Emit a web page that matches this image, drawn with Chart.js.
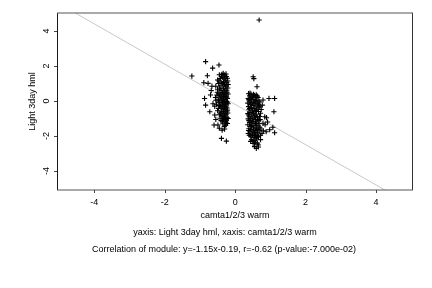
<!DOCTYPE html>
<html><head><meta charset="utf-8">
<script src="https://cdn.jsdelivr.net/npm/chart.js@4/dist/chart.umd.min.js"></script>
<style>html,body{margin:0;padding:0;background:#fff}</style>
</head><body>
<canvas id="c" width="432" height="288"></canvas>
<script>
const xTickValues = [-4, -2, 0, 2, 4];
const yTickValues = [-4, -2, 0, 2, 4];
const xAxisTitle = "camta1/2/3 warm";
const yAxisTitle = "Light 3day hml";
const captionLines = [
  "yaxis: Light 3day hml, xaxis: camta1/2/3 warm",
  "Correlation of module: y=-1.15x-0.19, r=-0.62 (p-value:-7.000e-02)"
];
const fitSlope = -1.15;
const fitIntercept = -0.19;

// cluster around x ~ -0.35
const groupAX = [-1.23,-0.84,-0.46,-0.64,-0.79,-0.89,-0.77,-0.87,-0.84,-0.72,-0.58,-0.60,-0.49,-0.37,-0.39,-0.25,-0.68,-0.70,-0.63,-0.66,-0.55,-0.45,-0.30,
-0.45,-0.38,-0.30,-0.25,-0.22,-0.35,-0.42,-0.50,-0.28,-0.33,-0.40,-0.47,-0.24,-0.30,-0.37,-0.55,-0.44,-0.27,-0.21,-0.33,-0.50,-0.40,-0.29,-0.23,-0.36,-0.46,-0.52,-0.31,-0.26,-0.41,-0.35,-0.22,-0.48,-0.29,-0.38,-0.25,-0.44,-0.32,-0.20,-0.53,-0.37,-0.27,-0.42,-0.30,-0.23,-0.47,-0.34,-0.26,-0.40,-0.21,-0.31,-0.45,-0.28,-0.36,-0.23,-0.33,-0.25,-0.40,-0.29,-0.22,-0.35,-0.27,
-0.39,-0.26,-0.31,-0.46,-0.21,-0.36,-0.26,-0.43,-0.31,-0.24,-0.38,-0.28,-0.45,-0.33,-0.24,-0.40,-0.31,-0.47,-0.22,-0.36,-0.28,-0.45,-0.32,-0.24,-0.38,-0.29,-0.50,-0.22,-0.33,-0.42,-0.26,-0.38,-0.30,-0.43,-0.27,-0.36,-0.31,-0.25,-0.20,-0.20,-0.20,-0.34,-0.50,-0.56,-0.58,-0.55];
const groupAY = [1.43,2.25,2.06,1.88,1.45,1.05,1.01,0.15,-0.23,-0.61,-0.80,-1.37,-1.37,-1.66,-2.13,-2.29,0.60,0.35,-0.15,0.85,-1.05,-1.55,-1.60,
1.50,1.52,1.48,1.40,1.30,1.35,1.28,1.20,1.20,1.10,1.05,1.00,1.05,0.95,0.90,0.85,0.80,0.82,0.75,0.70,0.65,0.60,0.58,0.50,0.48,0.42,0.35,0.36,0.28,0.25,0.18,0.15,0.10,0.08,0.02,-0.02,-0.08,-0.10,-0.15,-0.18,-0.22,-0.28,-0.32,-0.38,-0.45,-0.42,-0.50,-0.58,-0.62,-0.68,-0.72,-0.78,-0.85,-0.90,-0.95,-1.02,-1.10,-1.12,-1.20,-1.28,-1.30,-1.38,
1.42,1.55,1.30,1.15,1.15,1.00,0.90,0.70,0.62,0.62,0.40,0.45,0.30,0.27,0.22,0.12,-0.02,0.00,-0.07,-0.12,-0.18,-0.25,-0.30,-0.35,-0.42,-0.50,-0.55,-0.55,-0.62,-0.70,-0.75,-0.82,-0.95,-0.98,-1.05,-1.18,-1.45,-1.25,-1.00,0.40,0.95,1.58,0.50,0.20,-0.30,0.05];

// cluster around x ~ 0.55
const groupBX = [0.51,0.53,0.62,0.96,1.12,0.79,0.77,0.74,1.10,0.84,0.89,0.79,0.85,1.07,0.98,1.12,0.80,0.72,0.76,0.51,0.65,0.60,0.44,0.55,0.66,0.58,0.88,0.70,0.92,0.68,
0.38,0.45,0.52,0.60,0.41,0.49,0.57,0.65,0.37,0.44,0.53,0.61,0.68,0.40,0.48,0.56,0.36,0.64,0.43,0.51,0.59,0.38,0.67,0.46,0.54,0.62,0.39,0.49,0.57,0.66,0.42,0.52,0.36,0.60,0.47,0.55,0.69,0.40,0.63,0.50,0.37,0.58,0.45,0.67,0.53,0.41,0.61,0.48,0.36,0.56,0.65,0.43,0.52,0.60,0.39,0.47,0.57,0.68,0.42,0.54,0.37,0.62,0.49,0.58,0.44,0.66,0.53,0.60,0.47,0.56,
0.42,0.55,0.63,0.47,0.39,0.58,0.45,0.53,0.66,0.41,0.60,0.50,0.38,0.57,0.64,0.44,0.50,0.39,0.58,0.68,0.46,0.62,0.38,0.51,0.70,0.64,0.45,0.55,0.40,0.62,0.50,0.72,0.71,0.73,0.70,0.72,0.63];
const groupBY = [1.39,1.28,0.82,0.15,0.15,0.06,-0.23,-0.48,-0.61,-0.90,-0.95,-1.27,-1.35,-1.50,-1.64,-1.81,-1.70,-1.95,-1.85,-2.42,-2.50,-2.70,-2.30,-2.60,-2.62,-2.35,-1.75,-0.05,-1.20,4.63,
0.42,0.40,0.38,0.35,0.30,0.25,0.22,0.20,0.15,0.12,0.08,0.05,0.00,0.00,-0.05,-0.10,-0.12,-0.15,-0.20,-0.25,-0.28,-0.32,-0.35,-0.38,-0.42,-0.45,-0.50,-0.55,-0.58,-0.60,-0.65,-0.70,-0.72,-0.75,-0.80,-0.85,-0.88,-0.90,-0.95,-0.98,-1.02,-1.05,-1.10,-1.12,-1.18,-1.22,-1.25,-1.30,-1.35,-1.38,-1.42,-1.45,-1.50,-1.55,-1.58,-1.62,-1.68,-1.70,-1.75,-1.80,-1.85,-1.88,-1.92,-1.97,-2.00,-2.02,-2.08,-2.15,-2.20,-2.25,
0.45,0.32,0.28,0.18,0.08,0.02,-0.10,-0.15,-0.22,-0.42,-0.52,-0.62,-0.80,-0.92,-1.05,-1.00,-1.15,-1.12,-1.28,-1.30,-1.40,-1.62,-1.68,-1.72,-1.50,-1.78,-1.88,-1.95,-1.95,-2.08,-2.30,-0.70,-1.05,-1.60,-0.30,-2.20,-2.40];

const pts = (xs, ys) => xs.map((x, i) => ({x, y: ys[i]}));
const X_MIN = -5.06, X_MAX = 5.05, Y_MIN = -5.08, Y_MAX = 5.03;
const FONT = '"Liberation Sans", Arial, sans-serif';

const frame = {
  id: 'frame',
  afterDraw(chart) {
    const ctx = chart.ctx, a = chart.chartArea;
    const xs = chart.scales.x, ys = chart.scales.y;
    ctx.save();
    // box
    ctx.lineWidth = 1;
    ctx.strokeStyle = '#1a1a1a';
    ctx.beginPath(); ctx.moveTo(a.left + 0.5, a.top); ctx.lineTo(a.left + 0.5, a.bottom); ctx.stroke();
    ctx.strokeStyle = '#333';
    ctx.beginPath(); ctx.moveTo(a.right - 0.5, a.top); ctx.lineTo(a.right - 0.5, a.bottom); ctx.stroke();
    ctx.strokeStyle = '#555';
    ctx.beginPath(); ctx.moveTo(a.left, a.top); ctx.lineTo(a.right, a.top); ctx.stroke();
    ctx.beginPath(); ctx.moveTo(a.left, a.bottom); ctx.lineTo(a.right, a.bottom); ctx.stroke();
    // ticks
    ctx.strokeStyle = '#444';
    xTickValues.forEach(v => {
      const px = Math.round(xs.getPixelForValue(v)) + 0.5;
      ctx.beginPath(); ctx.moveTo(px, a.bottom); ctx.lineTo(px, a.bottom + 3); ctx.stroke();
    });
    yTickValues.forEach(v => {
      const py = Math.round(ys.getPixelForValue(v)) + 0.5;
      ctx.beginPath(); ctx.moveTo(a.left - 3, py); ctx.lineTo(a.left, py); ctx.stroke();
    });
    // tick labels
    ctx.fillStyle = '#000';
    ctx.font = '9px ' + FONT;
    ctx.textAlign = 'center'; ctx.textBaseline = 'middle';
    xTickValues.forEach(v => {
      ctx.fillText(String(v), xs.getPixelForValue(v), a.bottom + 13);
    });
    yTickValues.forEach(v => {
      ctx.save();
      ctx.translate(a.left - 10, ys.getPixelForValue(v));
      ctx.rotate(-Math.PI / 2);
      ctx.fillText(String(v), 0, 0);
      ctx.restore();
    });
    // axis titles
    ctx.fillText(xAxisTitle, (a.left + a.right) / 2, a.bottom + 26);
    ctx.save();
    ctx.translate(a.left - 24, (a.top + a.bottom) / 2);
    ctx.rotate(-Math.PI / 2);
    ctx.fillText(yAxisTitle, 0, 0);
    ctx.restore();
    // caption
    ctx.fillText(captionLines[0], 225, a.bottom + 43);
    ctx.fillText(captionLines[1], 224, a.bottom + 60);
    ctx.restore();
  }
};

new Chart(document.getElementById('c'), {
  type: 'scatter',
  data: {
    datasets: [
      {
        type: 'line',
        data: [{x: X_MIN, y: fitSlope * X_MIN + fitIntercept}, {x: X_MAX, y: fitSlope * X_MAX + fitIntercept}],
        borderColor: '#c8c8c8', borderWidth: 1, pointRadius: 0, fill: false, tension: 0, order: 2
      },
      {
        data: pts(groupAX, groupAY),
        pointStyle: 'cross', pointRadius: 2.6, borderColor: '#000', backgroundColor: '#000', pointBorderWidth: 1.1, order: 1
      },
      {
        data: pts(groupBX, groupBY),
        pointStyle: 'cross', pointRadius: 2.6, borderColor: '#000', backgroundColor: '#000', pointBorderWidth: 1.1, order: 1
      }
    ]
  },
  options: {
    responsive: false, animation: false, devicePixelRatio: 1,
    layout: {padding: {left: 0, top: 13, right: 19, bottom: 0}},
    plugins: {legend: {display: false}, tooltip: {enabled: false}},
    scales: {
      x: {
        type: 'linear', min: X_MIN, max: X_MAX,
        grid: {display: false}, border: {display: false},
        ticks: {display: false},
        afterFit: s => { s.height = 98; }
      },
      y: {
        type: 'linear', min: Y_MIN, max: Y_MAX,
        grid: {display: false}, border: {display: false},
        ticks: {display: false},
        afterFit: s => { s.width = 57; }
      }
    }
  },
  plugins: [frame]
});
</script>
</body></html>
